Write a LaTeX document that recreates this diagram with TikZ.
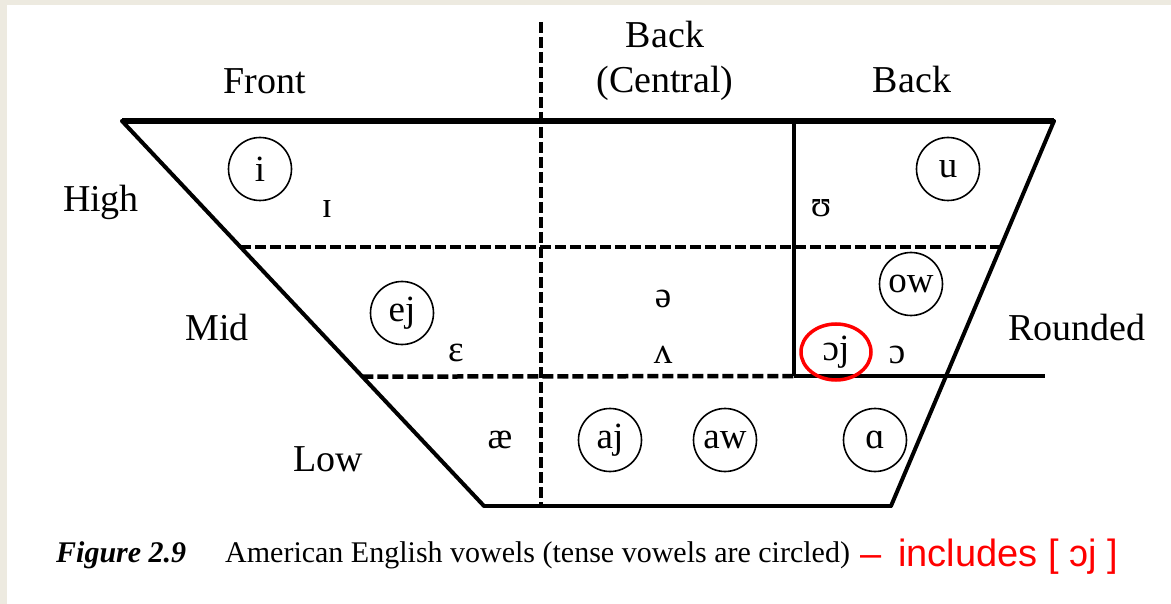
\documentclass[tikz,border=0pt]{standalone}
\usepackage{fontspec}
\setmainfont{Liberation Serif}
\newfontfamily\notesans{Liberation Sans}
\usepackage{xcolor}
\usepackage{tikz}
\usetikzlibrary{calc,shapes.geometric}
\definecolor{VCRed}{HTML}{FF0000}
\definecolor{VCFrame}{HTML}{EDEAE0}
\tikzset{
  axislabel/.style={font=\fontsize{38}{44}\selectfont, inner sep=0pt, anchor=base},
  vowel/.style={font=\fontsize{37}{42}\selectfont, inner sep=0pt, anchor=base},
  tense/.style={font=\fontsize{37}{42}\selectfont, inner sep=0pt, draw, circle,
    line width=1.6pt, minimum size=63pt},
  chartedge/.style={line width=4pt, line cap=round},
  gridline/.style={line width=4.5pt, dash pattern=on 11pt off 4pt},
}

\begin{document}
\begin{tikzpicture}[x=1pt,y=-1pt]
\useasboundingbox (0,0) rectangle (1171,604);
\fill[white] (0,0) rectangle (1171,604);
\fill[VCFrame] (0,0) rectangle (1171,5);
\fill[VCFrame] (0,0) rectangle (7,604);

% corners of the chart
\coordinate (tl) at (122,121);
\coordinate (tr) at (1054,121);
\coordinate (bl) at (484,506);
\coordinate (br) at (891,506);
\coordinate (ctop) at (541,22);
\coordinate (cbot) at (541,506);
\coordinate (rtop) at (794,121);
\coordinate (rbot) at (794,376);
\coordinate (hml) at ($(tl)!0.327!(bl)$);
\coordinate (hmr) at ($(tr)!0.327!(br)$);
\coordinate (mll) at ($(tl)!0.664!(bl)$);
\coordinate (mlr) at (1045,376);

% outline
\draw[line width=5.5pt] (tl) -- (tr);
\draw[chartedge] (tl) -- (bl);
\draw[chartedge] (tr) -- (br);
\draw[line width=4.5pt] (bl) -- (br);
\draw[line width=4pt] (rtop) -- (rbot);
\draw[line width=4pt] (rbot) -- (mlr);
\draw[gridline] (ctop) -- (cbot);
\draw[gridline] (hml) -- (hmr);
\draw[gridline] (mll) -- (rbot);

% axis labels
\node[axislabel] (front) at (265,94) {Front};
\node[axislabel] (back1) at (665,48) {Back};
\node[axislabel] (central) at (665,93) {(Central)};
\node[axislabel] (back2) at (912,93) {Back};
\node[axislabel] (high) at (101,212) {High};
\node[axislabel] (mid) at (217,341) {Mid};
\node[axislabel] (low) at (328,471) {Low};
\node[axislabel] (rounded) at (1077,341) {Rounded};

% vowels
\node[tense] (i) at (260,169) {i};
\node[vowel] (lax i) at (327,218) {ɪ};
\node[tense] (u) at (948,169) {u};
\node[vowel] (lax u) at (821,217) {ʊ};
\node[tense] (ej) at (402,313) {ej};
\node[vowel] (lax e) at (456,362) {ɛ};
\node[vowel] (schwa) at (663,308) {ə};
\node[vowel] (wedge) at (663,363) {ʌ};
\node[tense] (ow) at (911,284) {ow};
\node[tense, ellipse, draw=VCRed, line width=3.5pt, minimum width=70pt,
  minimum height=56pt] (oj) at (836,352) {ɔj};
\node[vowel] (open o) at (897,363) {ɔ};
\node[vowel] (ash) at (500,448) {æ};
\node[tense] (aj) at (610,440) {aj};
\node[tense] (aw) at (725,440) {aw};
\node[tense] (low a) at (875,440) {ɑ};

% caption
\node[anchor=base west, inner sep=0pt, font=\fontsize{30}{34}\selectfont\bfseries\itshape]
  (figno) at (56,562) {Figure 2.9};
\node[anchor=base west, inner sep=0pt, font=\fontsize{30}{34}\selectfont]
  (caption) at (225,562) {American English vowels (tense vowels are circled)};
\node[anchor=base west, inner sep=0pt, text=VCRed, font=\notesans\fontsize{38}{42}\selectfont]
  (note) at (860,566) {–\, includes [ ɔj ]};
\end{tikzpicture}
\end{document}
